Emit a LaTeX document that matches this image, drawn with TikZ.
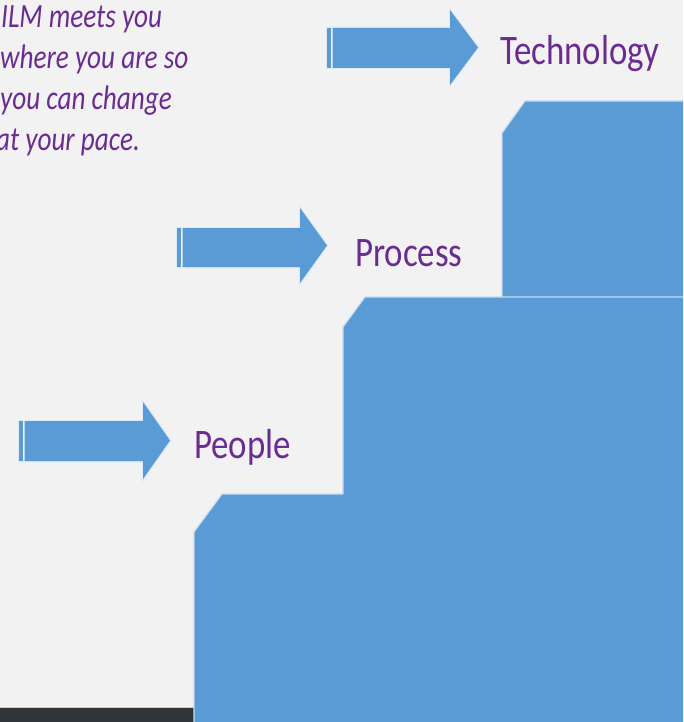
\documentclass[tikz,border=0pt]{standalone}
\usepackage{fontspec}
\setmainfont{Carlito}
\definecolor{bg}{HTML}{F2F2F2}
\definecolor{stepblue}{HTML}{5B9BD5}
\definecolor{txtpurple}{HTML}{6A2C91}
\definecolor{stripdark}{HTML}{2F3539}
\tikzset{
  stepfill/.style={fill=stepblue},
  stepedge/.style={draw=white!65!stepblue,line width=1.2pt,line join=round},
  stepword/.style={text=txtpurple,anchor=base west,inner sep=0pt,xscale=0.83,
    font=\fontsize{42}{42}\selectfont},
  slogan/.style={text=txtpurple,anchor=base west,inner sep=0pt,xscale=0.80,
    font=\fontsize{34}{34}\selectfont\itshape},
  arrowglow/.style={draw=white!80!stepblue,line width=2.5pt,line join=miter},
}
% #1 tail x, #2 shaft top, #3 shaft bottom, #4 head x, #5 head top, #6 head bottom, #7 tip x
\newcommand\ilmarrow[7]{%
  \path[arrowglow] (#1,#2) -- (#4,#2) -- (#4,#5) -- (#7,{(#5+#6)/2}) -- (#4,#6) -- (#4,#3) -- (#1,#3) -- cycle;
  \fill[stepblue] (#1,#2) rectangle ({#1+4},#3);
  \fill[stepblue] ({#1+5.5},#2) -- (#4,#2) -- (#4,#5) -- (#7,{(#5+#6)/2}) -- (#4,#6) -- (#4,#3) -- ({#1+5.5},#3) -- cycle;
}
\begin{document}
\begin{tikzpicture}[x=1pt,y=-1pt]
\clip (0,0) rectangle (683,722);
\fill[bg] (0,0) rectangle (683,722);
% dark strip bottom left
\fill[stripdark] (0,708) rectangle (194,722);
\draw[gray!40,line width=0.8pt] (0,707.5) -- (194,707.5);
% steps
\fill[stepfill] (502,297) -- (502,133) -- (525,101) -- (683,101) -- (683,297) -- cycle;
\draw[stepedge] (502,297) -- (502,133) -- (525,101) -- (683,101);
\fill[stepfill] (194,722) -- (194,532) -- (222,494) -- (683,494) -- (683,722) -- cycle;
\draw[stepedge] (194,722) -- (194,532) -- (222,494) -- (343,494);
\fill[stepfill] (343,494) -- (343,327) -- (365,297) -- (683,297) -- (683,494) -- cycle;
\draw[stepedge] (343,494) -- (343,327) -- (365,297) -- (683,297);
% arrows
\ilmarrow{327}{28}{68}{450}{10}{85}{478}
\ilmarrow{177}{228}{267}{300}{208}{283}{327}
\ilmarrow{19}{421}{461}{143}{402}{479}{170}
% labels
\node[stepword] (tech) at (500,65) {Technology};
\node[stepword] (proc) at (355,266) {Process};
\node[stepword] (peop) at (194,458) {People};
% slogan
\node[slogan] (s1) at (1,28) {ILM meets you};
\node[slogan] (s2) at (0,69) {where you are so};
\node[slogan] (s3) at (0,110) {you can change};
\node[slogan] (s4) at (-4,151) {at your pace.};
\end{tikzpicture}
\end{document}
